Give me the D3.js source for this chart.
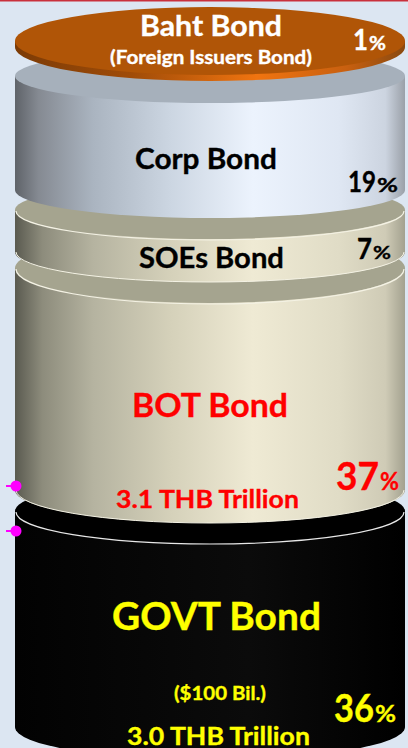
<!DOCTYPE html>
<html>
<head>
<meta charset="utf-8">
<script src="https://cdn.jsdelivr.net/npm/d3@7/dist/d3.min.js"></script>
<style>
  html, body { margin: 0; padding: 0; background: #dce6f2; }
  svg { display: block; }
  text { font-family: Lato, "Open Sans", sans-serif; font-weight: 700; }
</style>
</head>
<body>
<div id="chart"></div>
<script>
// Bond market composition, stacked bottom to top as separated cylinders.
const categories = ["GOVT Bond", "BOT Bond", "SOEs Bond", "Corp Bond", "Baht Bond"];
const shares = [36, 37, 7, 19, 1];
const subLabels = ["3.0 THB Trillion", "3.1 THB Trillion", "", "", "(Foreign Issuers Bond)"];
const noteLabels = ["($100 Bil.)", "", "", "", ""];

const W = 408, H = 748;
const CX = 210, RX = 195;
const BASELINE = 727;

// Space between one cylinder's top and the next one's base, and ellipse radii.
const gaps = [0, 21, 16, 20, 29];
const faceRy = [32, 35, 29, 27, 34];
const baseRy = [33, 33, 30, 28, 34];

const ramps = {
  ink:    [[0, "#020202"], [0.6, "#0b0b0b"], [1, "#000000"]],
  cream:  [[0, "#5a5a50"], [0.07, "#8d8c7c"], [0.2, "#b5b3a0"], [0.4, "#d5d1ba"], [0.61, "#efeAd4"], [0.83, "#e0dcc6"], [0.95, "#cfcbb6"], [1, "#a3a18f"]],
  steel:  [[0, "#5f6369"], [0.06, "#858a92"], [0.2, "#aab4c0"], [0.4, "#ccd6e2"], [0.61, "#ecf3fd"], [0.83, "#dfe7f3"], [0.95, "#ccd4e0"], [1, "#9aa0a8"]],
  copper: [[0, "#7c3b06"], [0.3, "#a04c08"], [0.62, "#f07410"], [0.85, "#c86010"], [1, "#8a4a10"]]
};
const styles = [
  { ramp: "ink",    face: "#000000", line: "#e8e8e8", edge: null },
  { ramp: "cream",  face: "#a5a48f", line: "#f4f2e4", edge: "#f4f2e4" },
  { ramp: "cream",  face: "#a5a48f", line: "#f4f2e4", edge: "#f4f2e4" },
  { ramp: "steel",  face: "#a6b0bb", line: null, edge: null },
  { ramp: "copper", face: "#b05507", line: null, edge: null }
];

const svg = d3.select("#chart").append("svg").attr("width", W).attr("height", H);
svg.append("rect").attr("width", W).attr("height", H).attr("fill", "#dce6f2");
svg.append("rect").attr("width", W).attr("height", 1.5).attr("fill", "#c9303c");

// One horizontal gradient per colour ramp.
const defs = svg.append("defs");
Object.entries(ramps).forEach(([name, stops]) => {
  const g = defs.append("linearGradient").attr("id", "side-" + name);
  g.selectAll("stop").data(stops).join("stop")
    .attr("offset", d => d[0]).attr("stop-color", d => d[1]);
});

// Every share maps to a cylinder height through one linear scale.
const height = d3.scaleLinear().domain([0, 100]).range([0, 600]);

let cursor = BASELINE;
const layers = shares.map((v, i) => {
  const base = cursor - gaps[i];
  const top = base - height(v);
  cursor = top;
  return { i, v, name: categories[i], base, top, ryF: faceRy[i], ryB: baseRy[i], style: styles[i] };
});

const L = CX - RX, R = CX + RX;
const layerG = svg.selectAll("g.layer").data(layers).join("g").attr("class", "layer");

layerG.append("path")
  .attr("d", d => `M${L},${d.top}L${L},${d.base}A${RX},${d.ryB} 0 0 0 ${R},${d.base}L${R},${d.top}Z`)
  .attr("fill", d => `url(#side-${d.style.ramp})`);

layerG.append("ellipse")
  .attr("cx", CX).attr("cy", d => d.top)
  .attr("rx", RX).attr("ry", d => d.ryF)
  .attr("fill", d => d.style.face);

// Thin highlights along the front of the top face and the lower edge.
layerG.filter(d => d.style.line).append("path")
  .attr("d", d => `M${L + 1},${d.top + 1}A${RX - 1},${d.ryF} 0 0 0 ${R - 1},${d.top + 1}`)
  .attr("fill", "none").attr("stroke", d => d.style.line).attr("stroke-width", 1.2);
layerG.filter(d => d.style.edge).append("path")
  .attr("d", d => `M${L + 1},${d.base}A${RX - 1},${d.ryB} 0 0 0 ${R - 1},${d.base}`)
  .attr("fill", "none").attr("stroke", d => d.style.edge).attr("stroke-width", 1);

// Magenta pins on the left of the two largest cylinders.
const pinGroup = svg.append("g");
[layers[1].base - 4, layers[0].top + 20].forEach(y => {
  pinGroup.append("line").attr("x1", 6).attr("x2", 16).attr("y1", y).attr("y2", y)
    .attr("stroke", "#ff00ff").attr("stroke-width", 2);
  pinGroup.append("circle").attr("cx", 16).attr("cy", y).attr("r", 5.5).attr("fill", "#ff00ff");
});

// Draws a label stretched or squeezed to a fixed horizontal extent.
function put(text, x0, x1, baseline, size, fill) {
  const t = svg.append("text")
    .attr("font-size", size).attr("fill", fill)
    .attr("stroke", fill).attr("stroke-width", 0.35)
    .text(text);
  const natural = t.node().getComputedTextLength();
  t.attr("transform", `translate(${x0},${baseline}) scale(${(x1 - x0) / natural},1)`);
}

const inks = ["#ffff00", "#ff0000", "#000000", "#000000", "#ffffff"];
const nameBoxes = [[112, 321, 630, 37.5], [132, 288, 417, 32], [139, 284, 268, 28], [135, 277, 169, 28], [140, 282, 36, 28]];
const subBoxes = [[127, 310, 745, 25], [116, 299, 508, 25], null, null, [110, 312, 64, 18]];
const noteBoxes = [[174, 266, 700, 19.5], null, null, null, null];
const numBoxes = [[334, 374, 722, 39], [336, 379, 490, 38], [357, 372, 259, 29], [348, 376, 192, 28], [353, 368, 50, 28]];
const pctBoxes = [[375, 396, 722, 23], [380, 399, 490, 24], [373, 391, 259, 18], [377, 398, 192, 18], [369, 386, 50, 18]];

layers.forEach(d => {
  const i = d.i, c = inks[i];
  put(d.name, nameBoxes[i][0], nameBoxes[i][1], nameBoxes[i][2], nameBoxes[i][3], c);
  if (subLabels[i]) put(subLabels[i], subBoxes[i][0], subBoxes[i][1], subBoxes[i][2], subBoxes[i][3], c);
  if (noteLabels[i]) put(noteLabels[i], noteBoxes[i][0], noteBoxes[i][1], noteBoxes[i][2], noteBoxes[i][3], c);
  put(String(d.v), numBoxes[i][0], numBoxes[i][1], numBoxes[i][2], numBoxes[i][3], c);
  put("%", pctBoxes[i][0], pctBoxes[i][1], pctBoxes[i][2], pctBoxes[i][3], c);
});
</script>
</body>
</html>
